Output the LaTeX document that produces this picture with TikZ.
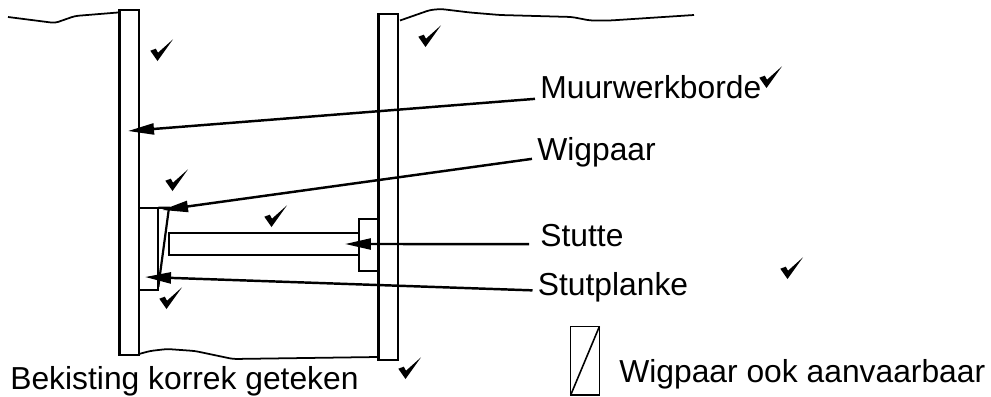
\documentclass[tikz,border=0pt]{standalone}
\usepackage{fontspec}
\setmainfont{Liberation Sans}
\usepackage{tikz}
\usetikzlibrary{arrows.meta}
\usetikzlibrary{positioning}

\tikzset{
	plank/.style={line width=1.25pt},
	ground/.style={line width=1pt,rounded corners=2pt},
	pointer/.style={line width=1.4pt,-{Triangle[length=0.52cm,width=0.22cm]},shorten >=0pt},
	lbl/.style={anchor=base west,inner xsep=0.1cm,inner ysep=0pt,text depth=0pt,font=\fontsize{18.1}{22}\selectfont}
}

\begin{document}
\begin{tikzpicture}[x=0.02cm,y=-0.02cm]
	\useasboundingbox (0,0) rectangle (991,396);
	
	% tips of the pointers
	\coordinate (muurtip) at (128,131);
	\coordinate (wigtip) at (162,210);
	\coordinate (stuttip) at (345,244);
	\coordinate (planktip) at (145,277);
	
	% ground lines
	\draw[ground] (8,17) -- (55,23) -- (75,16) -- (118,12.5);
	\draw[ground] (400,20.5) -- (430,10) -- (441,9) -- (470,12.5) -- (500,15) -- (572,17) -- (590,20.5) -- (610,20.5) -- (694,15);
	\draw[ground] (139,354) -- (150,351) -- (167,349) -- (195,351) -- (233,359) -- (378,357);
	
	% boards
	\draw[plank] (119.5,10) rectangle (139,355);
	\draw[plank] (378.5,14) rectangle (398,360);
	\draw[plank] (139,207.7) rectangle (158.3,290);
	\draw[plank] (358.7,219) rectangle (378.5,271);
	\draw[plank] (169,232.7) rectangle (358.7,255);
	\draw[plank] (158.3,207.7) -- (169,207.7) -- (158.3,287);
	
	% labels
	\node[lbl] (muur) at (535,98.5) {Muurwerkborde};
	\node[lbl] (wig) at (532,160) {Wigpaar};
	\node[lbl] (stut) at (535,246.7) {Stutte};
	\node[lbl] (plank) at (532.5,295) {Stutplanke};
	\node[lbl] (ook) at (614,382) {Wigpaar ook aanvaarbaar};
	\node[lbl] (bekisting) at (5,389) {Bekisting korrek geteken};
	
	% pointers
	\draw[pointer] (muur.south west) -- (muurtip);
	\draw[pointer] ([yshift=0.03cm]wig.south west) -- (wigtip);
	\draw[pointer] ([xshift=-0.12cm,yshift=0.06cm]stut.south west) -- (stuttip);
	\draw[pointer] ([yshift=0.1cm]plank.south west) -- (planktip);
	
	% second wedge shape
	\draw[line width=0.9pt] (570.7,326.7) rectangle (599.3,395);
	\draw[line width=0.9pt] (570.7,395) -- (599.3,326.7);
	
	% ticks
	\foreach \tx/\ty in {162/50,430/36,177/180,276/216,171/298,410/368,771/77,792/268}
		\fill (\tx,\ty) ++(-11.7,0.7) -- ++(5.5,-2) -- ++(2.2,4) -- ++(15,-13.4) -- ++(-15.5,21.7) -- cycle;
\end{tikzpicture}
\end{document}
